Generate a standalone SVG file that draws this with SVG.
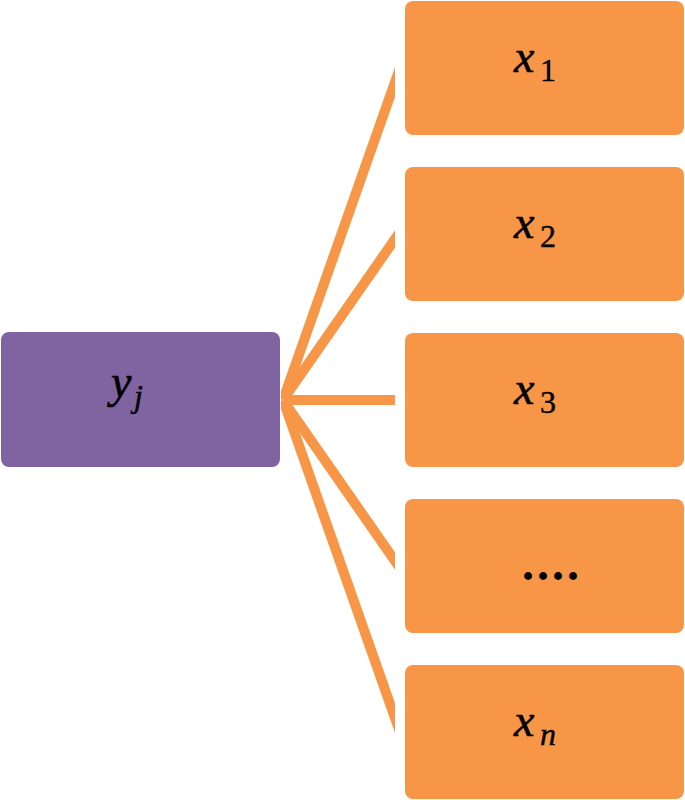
<svg xmlns="http://www.w3.org/2000/svg" width="685" height="800" viewBox="0 0 685 800">
  <style>
    .xbox { fill: #F79646; }
    .ybox { fill: #8064A2; }
    .conn { stroke: #F79646; stroke-width: 10; fill: none; }
    .m { font-family: "Liberation Serif", "DejaVu Serif", serif; font-style: italic; font-size: 46px; fill: #000; stroke: #000; stroke-width: 0.6; }
    .sub { font-family: "Liberation Serif", "DejaVu Serif", serif; font-size: 32px; fill: #000; stroke: #000; stroke-width: 0.4; }
    .subi { font-family: "Liberation Serif", "DejaVu Serif", serif; font-style: italic; font-size: 32px; fill: #000; stroke: #000; stroke-width: 0.4; }
    .dots { font-family: "Liberation Serif", "DejaVu Serif", serif; font-weight: bold; font-size: 48px; letter-spacing: 3px; fill: #000; }
  </style>
  <defs>
    <clipPath id="cc">
      <rect x="281" y="0" width="114" height="800"/>
    </clipPath>
  </defs>
  <rect width="685" height="800" fill="#fff"/>

  <g id="connectors" clip-path="url(#cc)">
    <line class="conn" x1="283" y1="400" x2="405" y2="53.6"/>
    <line class="conn" x1="283" y1="400" x2="405" y2="224.6"/>
    <line class="conn" x1="283" y1="400" x2="405" y2="400"/>
    <line class="conn" x1="283" y1="400" x2="405" y2="575.4"/>
    <line class="conn" x1="283" y1="400" x2="405" y2="746.4"/>
  </g>

  <g id="y_j">
    <rect class="ybox" x="1" y="332" width="279" height="135" rx="8"/>
    <text class="m" x="111" y="397">y</text>
    <text class="subi" x="134" y="407">j</text>
  </g>

  <g id="x_1">
    <rect class="xbox" x="405" y="1" width="279" height="134" rx="8"/>
    <text class="m" x="514" y="72">x</text>
    <text class="sub" x="540" y="81">1</text>
  </g>
  <g id="x_2">
    <rect class="xbox" x="405" y="167" width="279" height="134" rx="8"/>
    <text class="m" x="514" y="238">x</text>
    <text class="sub" x="540" y="247">2</text>
  </g>
  <g id="x_3">
    <rect class="xbox" x="405" y="333" width="279" height="134" rx="8"/>
    <text class="m" x="514" y="404">x</text>
    <text class="sub" x="540" y="413">3</text>
  </g>
  <g id="x_dots">
    <rect class="xbox" x="405" y="499" width="279" height="134" rx="8"/>
    <text class="dots" x="522" y="580">....</text>
  </g>
  <g id="x_n">
    <rect class="xbox" x="405" y="665" width="279" height="134" rx="8"/>
    <text class="m" x="514" y="736">x</text>
    <text class="subi" x="540" y="745">n</text>
  </g>
</svg>
